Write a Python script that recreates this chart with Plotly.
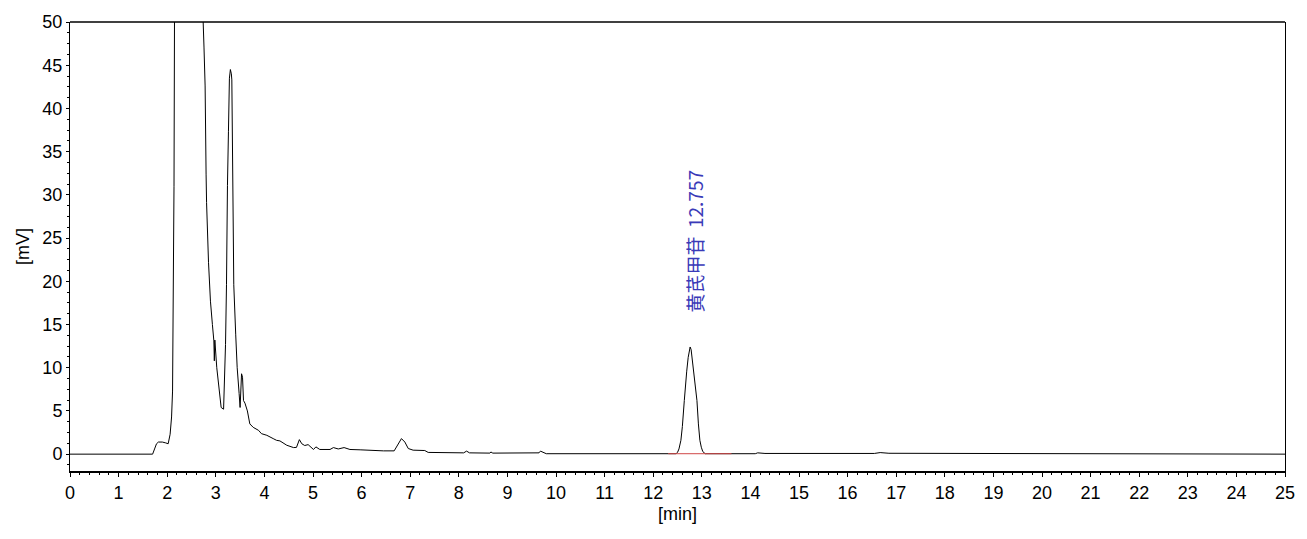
import plotly.graph_objects as go

# Chromatogram signal (time in min, signal in mV)
time_min = [0.00, 1.70, 1.74, 1.78, 1.82, 1.90, 1.97, 2.02, 2.06, 2.09, 2.11, 2.13, 2.14, 2.15,
            2.20, 2.35, 2.50, 2.65, 2.72, 2.74, 2.757, 2.78, 2.80, 2.81, 2.85, 2.89, 2.93, 2.96,
            2.97, 2.98, 3.02, 3.07, 3.11, 3.16, 3.20, 3.22, 3.23, 3.24, 3.26, 3.28, 3.30, 3.32,
            3.33, 3.34, 3.36, 3.37, 3.41, 3.44, 3.48, 3.50, 3.53, 3.55, 3.57, 3.60, 3.65, 3.70,
            3.77, 3.88, 3.94, 4.05, 4.18, 4.25, 4.32, 4.40, 4.46, 4.60, 4.66, 4.72, 4.77, 4.83,
            4.90, 5.01, 5.06, 5.14, 5.35, 5.42, 5.52, 5.64, 5.76, 5.97, 6.17, 6.45, 6.67, 6.74,
            6.82, 6.89, 6.96, 7.06, 7.30, 7.37, 8.02, 8.10, 8.16, 8.22, 8.64, 8.66, 8.70, 9.10,
            9.65, 9.68, 9.75, 9.80, 12.31, 12.47, 12.50, 12.53, 12.57, 12.60, 12.64, 12.66, 12.69,
            12.72, 12.74, 12.76, 12.78, 12.80, 12.83, 12.86, 12.90, 12.93, 12.96, 12.99, 13.02,
            13.07, 14.10, 14.15, 14.30, 16.55, 16.67, 16.85, 20.00, 25.00]
signal_mv = [0.00, 0.00, 0.6, 1.2, 1.4, 1.4, 1.3, 1.2, 2.3, 4.3, 7.3, 20.0, 31.0, 50.0,
             90.0, 130.0, 140.0, 120.0, 60.0, 50.0, 47.1, 42.6, 32.4, 29.1, 22.2, 17.7, 15.0, 13.1,
             10.8, 13.2, 10.0, 7.0, 5.4, 5.2, 12.7, 19.6, 29.1, 31.1, 37.3, 43.5, 44.5, 44.0,
             43.3, 37.2, 31.0, 19.6, 13.8, 10.0, 7.0, 5.4, 9.3, 8.9, 6.2, 5.9, 5.0, 3.5,
             3.1, 2.75, 2.37, 2.18, 1.8, 1.6, 1.53, 1.2, 1.03, 0.76, 0.78, 1.68, 1.2, 1.0,
             1.1, 0.54, 0.84, 0.54, 0.54, 0.76, 0.6, 0.76, 0.54, 0.5, 0.42, 0.38, 0.38, 1.03,
             1.8, 1.4, 0.65, 0.46, 0.42, 0.2, 0.15, 0.15, 0.35, 0.15, 0.12, 0.25, 0.12, 0.15,
             0.15, 0.35, 0.12, 0.05, 0.05, 0.05, 0.2, 0.6, 1.6, 3.2, 6.2, 7.9, 9.6,
             11.2, 12.1, 12.4, 12.1, 11.2, 9.6, 7.9, 6.2, 3.5, 1.6, 0.8, 0.3,
             0.05, 0.05, 0.15, 0.08, 0.08, 0.18, 0.1, 0.05, 0.00]

# Integration baseline of the named peak
baseline_t = [12.31, 13.61]
baseline_v = [0.05, 0.05]

peak_name = "黄芪甲苷"
peak_rt = 12.757
label_x = 12.86
label_y = 24.6

x_ticks = list(range(0, 26))
y_ticks = list(range(0, 51, 5))

fig = go.Figure()
fig.add_trace(go.Scatter(x=time_min, y=signal_mv, mode="lines",
                         line=dict(color="black", width=1), hoverinfo="skip"))
fig.add_trace(go.Scatter(x=baseline_t, y=baseline_v, mode="lines",
                         line=dict(color="#d04848", width=1), hoverinfo="skip"))

fig.add_annotation(x=label_x, y=label_y, text=f"{peak_name}  {peak_rt:.3f}",
                   textangle=-90, showarrow=False,
                   font=dict(family="Noto Sans CJK SC", size=19, color="#3a3ab8"))

axis_font = dict(family="Liberation Sans, Arial", size=18, color="black")

fig.update_xaxes(range=[0, 25], tickvals=x_ticks, ticktext=[str(v) for v in x_ticks],
                 showgrid=False, zeroline=False, showline=True, linecolor="black", linewidth=2,
                 ticks="outside", ticklen=4, tickcolor="black", tickfont=axis_font,
                 minor=dict(dtick=0.2, ticks="outside", ticklen=2, tickcolor="black"),
                 title=dict(text="[min]", font=dict(family="Liberation Sans, Arial", size=18, color="black"),
                            standoff=6))
fig.update_yaxes(range=[-1.95, 50], tickvals=y_ticks, ticktext=[str(v) for v in y_ticks],
                 showgrid=False, zeroline=False, showline=True, linecolor="black", linewidth=1,
                 mirror=True,
                 ticks="outside", ticklen=3, tickcolor="black", tickfont=axis_font,
                 minor=dict(dtick=1.25, tick0=0, ticks="outside", ticklen=2, tickcolor="black"),
                 title=dict(text="[mV]", font=dict(family="Liberation Sans, Arial", size=18, color="black"),
                            standoff=8))

fig.add_shape(type="line", xref="paper", yref="paper", x0=0, x1=1, y0=1, y1=1,
              line=dict(color="black", width=1.5))

fig.update_layout(width=1307, height=539, margin=dict(l=70, r=22, t=19, b=68),
                  plot_bgcolor="white", paper_bgcolor="white", showlegend=False)

fig.write_html("out.html")
